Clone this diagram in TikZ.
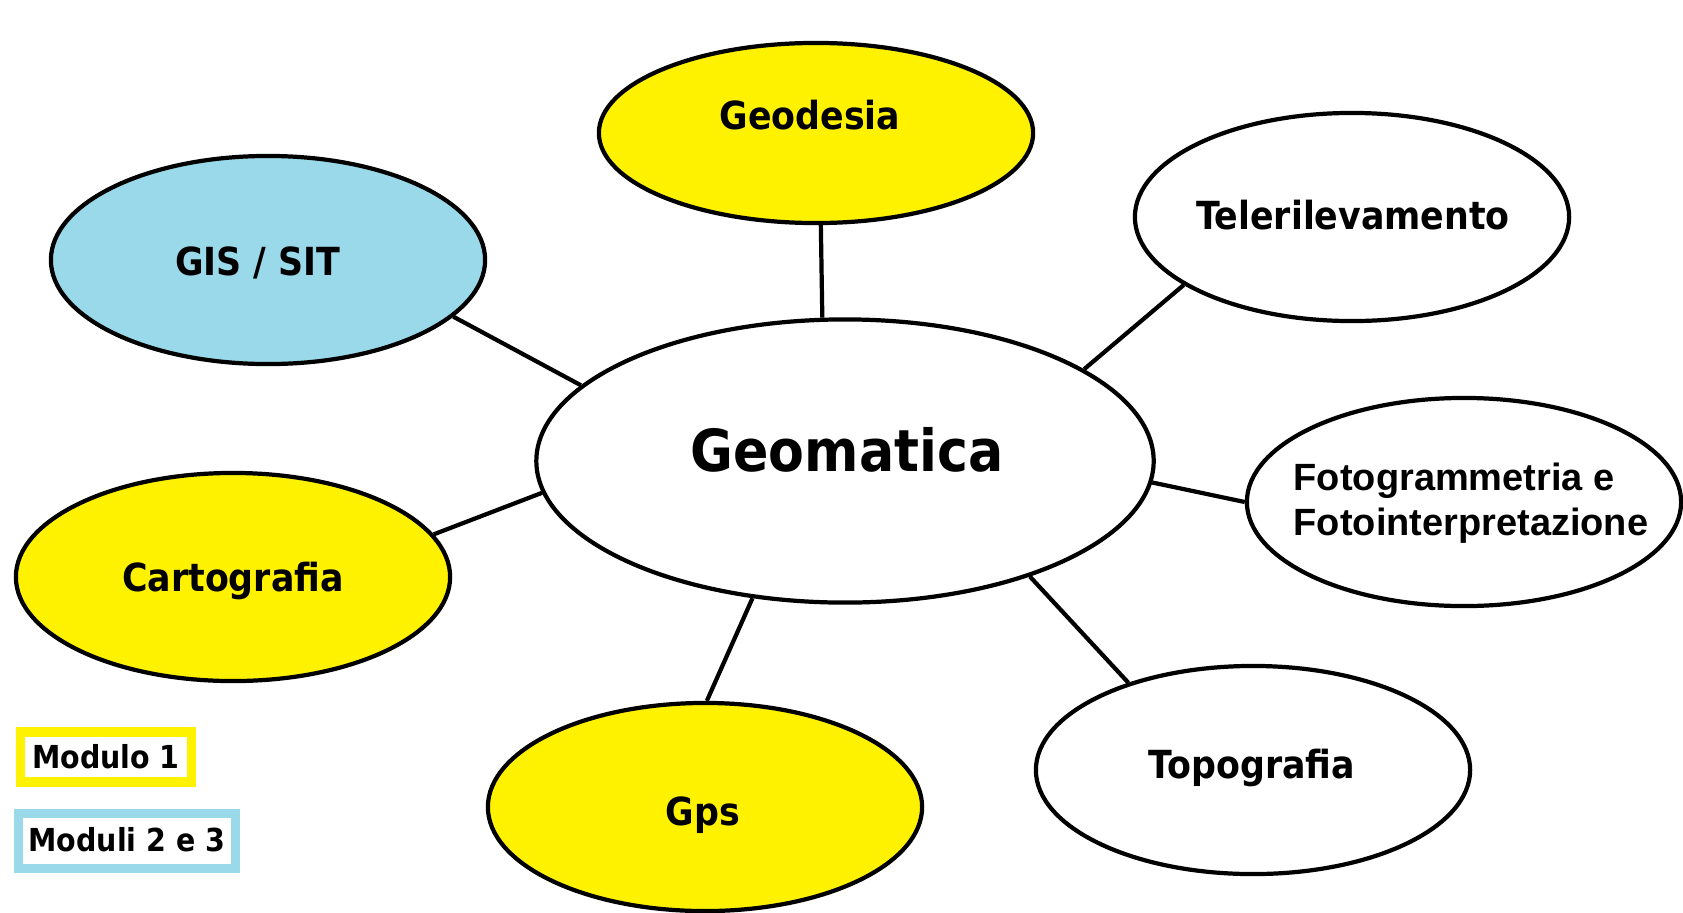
\documentclass[tikz,border=0pt]{standalone}
\usepackage{fontspec}
\usepackage{tikz}
\usetikzlibrary{shapes.geometric}
\newfontfamily\lblfont{DejaVuSansCondensed-Bold}[Extension=.ttf]
\newfontfamily\arialfont{Liberation Sans}
\definecolor{paintyellow}{HTML}{FFF200}
\definecolor{paintblue}{HTML}{99D9EA}

\begin{document}
\begin{tikzpicture}[x=0.01cm, y=0.01cm,
        blob/.style={ellipse, draw, line width=1.2pt, inner sep=0pt,
            minimum width=4.34cm, minimum height=2.08cm},
        lbl/.style={font=\lblfont\fontsize{11}{13}\selectfont, inner sep=0pt, anchor=base},
        key/.style={draw, line width=2.6pt, inner sep=0pt, font=\lblfont\fontsize{9}{11}\selectfont}]
        \useasboundingbox (0,0) rectangle (1683,-912);
        \node[blob, minimum width=6.17cm, minimum height=2.83cm] (geomatica) at (845,-461) {};
        \node[blob, fill=paintyellow, minimum height=1.8cm] (geodesia) at (816,-133) {};
        \foreach \n/\x/\y/\c in {tele/1352/-217/white, gis/268/-260/paintblue,
                foto/1464/-502/white, carto/233/-577/paintyellow,
                gps/705/-807/paintyellow, topo/1253/-770/white}
            \node[blob, fill=\c] (\n) at (\x,\y) {};
        % spokes
        \draw[line width=1.2pt] (geodesia.-87) -- (geomatica.99);
        \draw[line width=1.2pt] (gis.-17) -- (geomatica.164);
        \draw[line width=1.2pt] (tele.-158) -- (geomatica.21.5);
        \draw[line width=1.2pt] (foto.180) -- (geomatica.-4.4);
        \draw[line width=1.2pt] (carto.12.4) -- (geomatica.-174);
        \draw[line width=1.2pt] (gps.89.4) -- (geomatica.-124);
        \draw[line width=1.2pt] (topo.145) -- (geomatica.-32.5);
        % labels
        \node[lbl, font=\lblfont\fontsize{16.5}{19}\selectfont] (geomatica-t) at (847,-471) {Geomatica};
        \foreach \n/\x/\y/\t in {geodesia/810/-129/Geodesia, tele/1353/-229/Telerilevamento,
                gis/258/-275/{GIS / SIT}, carto/233/-591/Cartografia,
                gps/703/-825/Gps, topo/1252/-778/Topografia}
            \node[lbl] (\n-t) at (\x,\y) {\t};
        \node[font=\arialfont\bfseries\fontsize{10.8}{12.8}\selectfont, align=left, inner sep=0pt]
            (foto-t) at (1471,-503) {Fotogrammetria e\\Fotointerpretazione};
        % legend
        \node[key, draw=paintyellow, minimum width=1.71cm, minimum height=0.5cm] (mod1) at (106,-757) {\raisebox{-2pt}{Modulo 1}};
        \node[key, draw=paintblue, minimum width=2.17cm, minimum height=0.55cm] (mod23) at (127,-841) {\raisebox{1pt}{Moduli 2 e 3}};
    \end{tikzpicture}
\end{document}
